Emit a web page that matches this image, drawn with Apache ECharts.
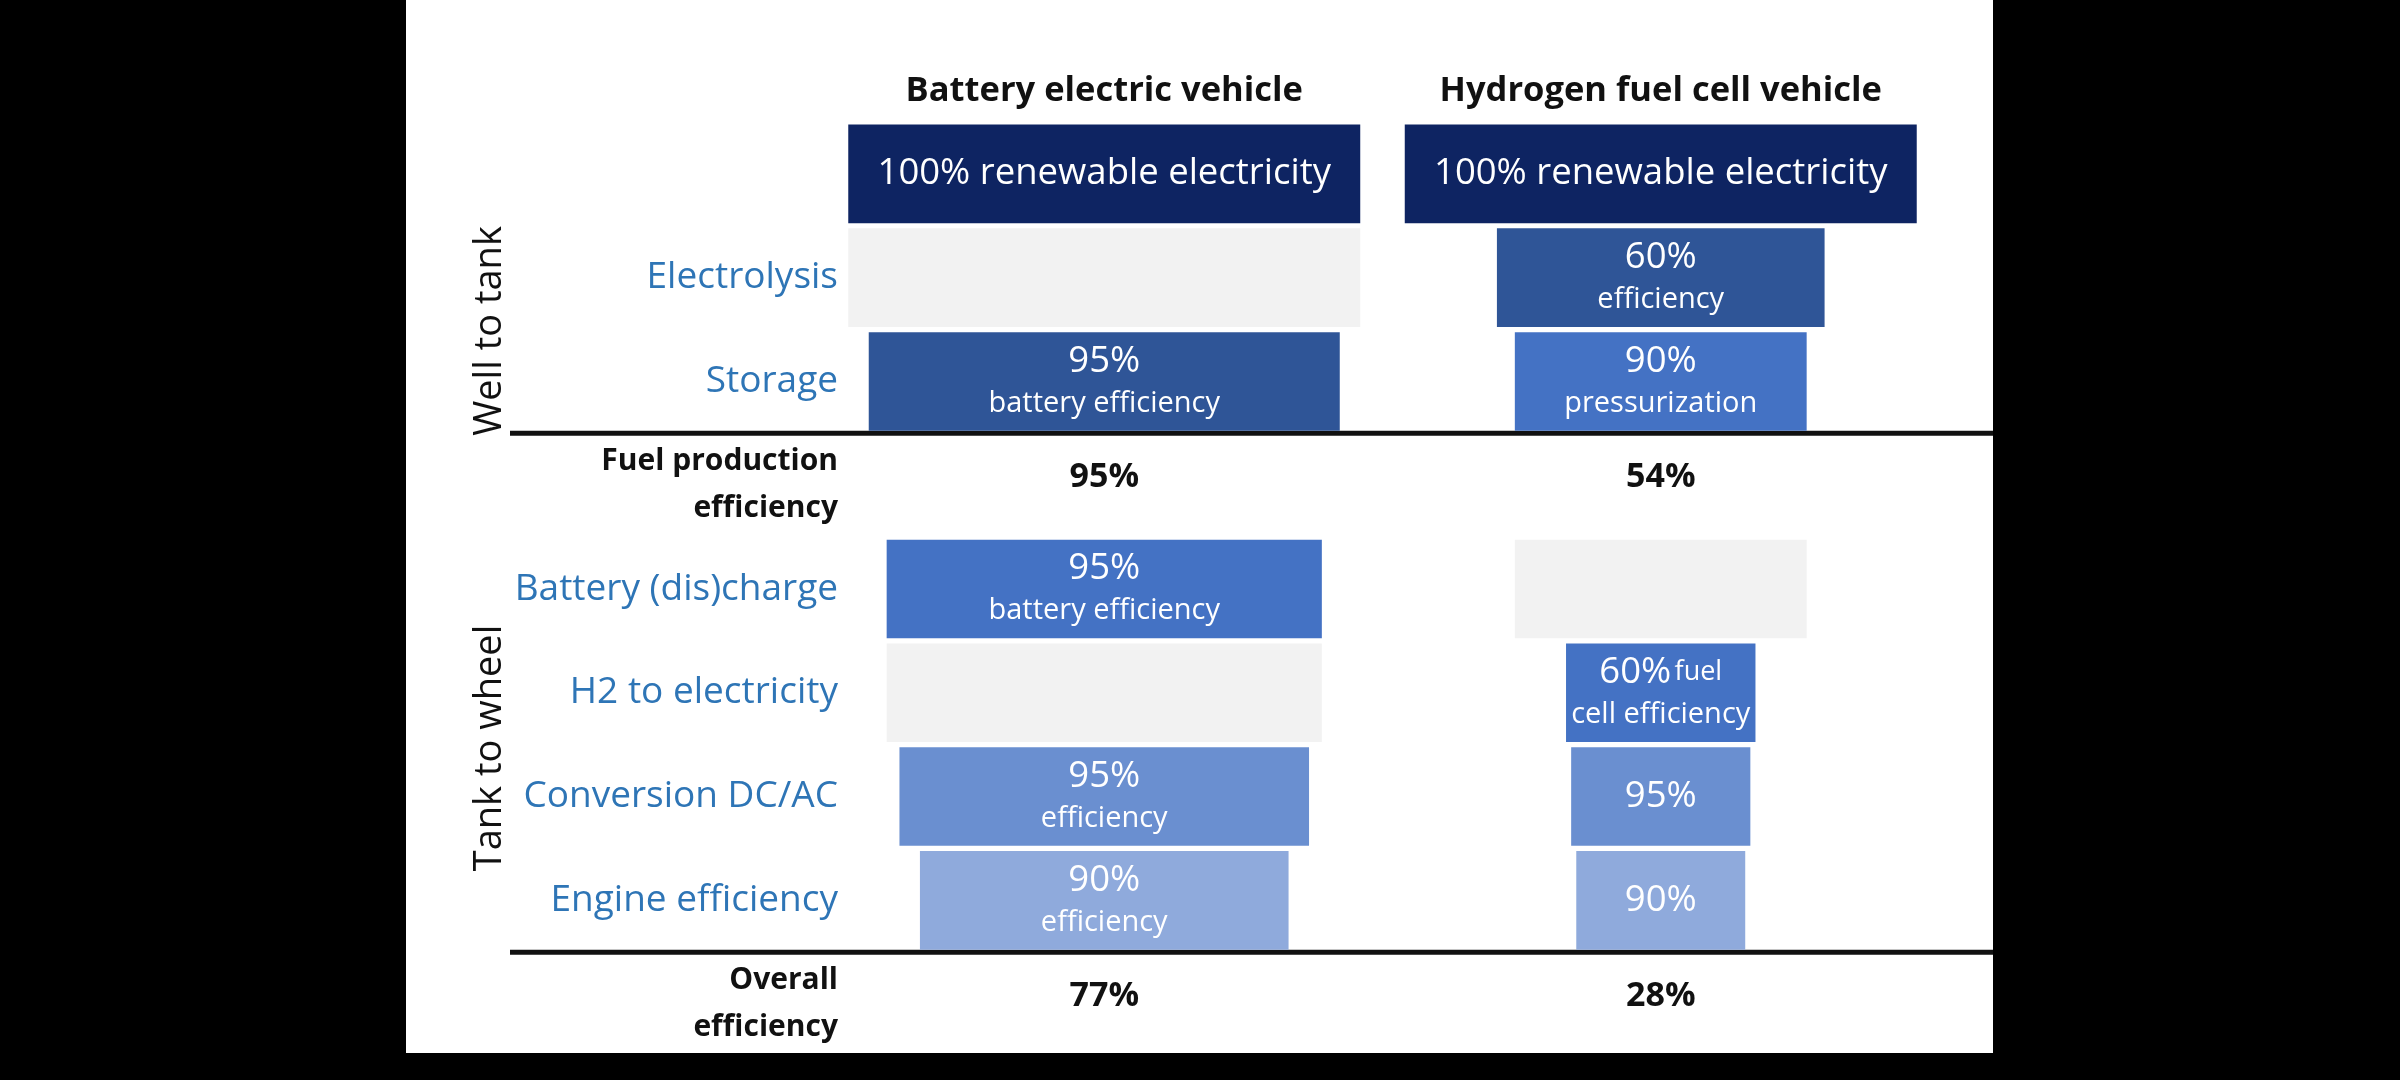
<!DOCTYPE html>
<html>
<head>
<meta charset="utf-8">
<title>Well to wheel efficiency</title>
<script src="https://cdn.jsdelivr.net/npm/echarts@6/dist/echarts.min.js"></script>
<style>
  html, body { margin: 0; padding: 0; background: #000; }
  #panel { position: absolute; left: 406px; top: 0; width: 1587px; height: 1053px; background: #fff; }
  #chart { position: absolute; left: 0; top: 0; width: 2400px; height: 1080px; }
</style>
</head>
<body>
<div id="panel"></div>
<div id="chart"></div>
<script>
var vehicles = ['Battery electric vehicle', 'Hydrogen fuel cell vehicle'];
var steps = ['', 'Electrolysis', 'Storage', 'Fuel production\nefficiency', 'Battery (dis)charge',
             'H2 to electricity', 'Conversion DC/AC', 'Engine efficiency', 'Overall\nefficiency'];
var totalRows = [3, 8];

// bar width in % of the top (100%) bar
var bevWidth = [100, 100, 92, 0, 85, 85, 80, 72, 0];
var fcvWidth = [100, 64, 57, 0, 57, 37, 35, 33, 0];

var bevValue = ['100% renewable electricity', '', '95%', '95%', '95%', '', '95%', '90%', '77%'];
var fcvValue = ['100% renewable electricity', '60%', '90%', '54%', '', '60%', '95%', '90%', '28%'];
var bevNote = ['', '', 'battery efficiency', '', 'battery efficiency', '', 'efficiency', 'efficiency', ''];
var fcvNote = ['', 'efficiency', 'pressurization', '', '', 'fuel|cell efficiency', '', '', ''];

(function () {
    var font = '"Open Sans", "Noto Sans", sans-serif';
    // fill per cell (style, not data)
    var fills = [
        ['#0e2462', '#f2f2f2', '#2f5597', null, '#4472c4', '#f2f2f2', '#6a8fd0', '#8faadc', null],
        ['#0e2462', '#2f5597', '#4472c4', null, '#f2f2f2', '#4472c4', '#6a8fd0', '#8faadc', null]
    ];
    var widths = [bevWidth, fcvWidth];
    var values = [bevValue, fcvValue];
    var notes = [bevNote, fcvNote];

    var data = [], cells = [];
    for (var c = 0; c < vehicles.length; c++) {
        for (var r = 0; r < steps.length; r++) {
            data.push([c, r, widths[c][r]]);
            cells.push({
                total: totalRows.indexOf(r) >= 0,
                value: values[c][r],
                note: notes[c][r],
                fill: fills[c][r]
            });
        }
    }

    function barText(d) {
        if (!d.value) return '';
        var t = '{p|' + d.value + '}';
        if (d.note.indexOf('|') >= 0) {
            var parts = d.note.split('|');
            t += ' {s|' + parts[0] + '}\n{n|' + parts[1] + '}';
        } else if (d.note) {
            t += '\n{n|' + d.note + '}';
        }
        return t;
    }

    var rich = {
        p: { fontSize: 36.5, fontFamily: font, color: '#fff', lineHeight: 44 },
        s: { fontSize: 27, fontFamily: font, color: '#fff', lineHeight: 44 },
        n: { fontSize: 29, fontFamily: font, color: '#fff', lineHeight: 40 }
    };

    var chart = echarts.init(document.getElementById('chart'));
    var option = {
        backgroundColor: 'transparent',
        animation: false,
        grid: { left: 826, right: 461, top: 122, bottom: 24 },
        xAxis: {
            type: 'category',
            position: 'top',
            data: vehicles,
            axisLine: { show: false },
            axisTick: { show: false },
            axisLabel: {
                interval: 0,
                margin: 13,
                color: '#111',
                fontSize: 34.5,
                fontWeight: 'bold',
                fontFamily: font
            }
        },
        yAxis: {
            type: 'category',
            inverse: true,
            data: steps,
            axisLine: { show: false },
            axisTick: { show: false },
            axisLabel: {
                interval: 0,
                margin: -12,
                color: '#2e75b6',
                fontSize: 37,
                fontFamily: font,
                formatter: function (v, i) {
                    if (totalRows.indexOf(i) < 0) return v;
                    return v.split('\n').map(function (s) { return '{b|' + s + '}'; }).join('\n');
                },
                rich: {
                    b: { fontSize: 30, fontWeight: 'bold', color: '#111', fontFamily: font, lineHeight: 47, align: 'right' }
                }
            }
        },
        series: [{
            type: 'custom',
            data: data,
            encode: { x: 0, y: 1 },
            renderItem: function (params, api) {
                var d = cells[params.dataIndex];
                var p = api.coord([api.value(0), api.value(1)]);
                var band = api.size([1, 1]);
                if (d.total) {
                    return {
                        type: 'text',
                        x: p[0],
                        y: p[1] - 8,
                        style: {
                            text: d.value,
                            fill: '#111',
                            font: 'bold 34px ' + font,
                            align: 'center',
                            verticalAlign: 'middle'
                        }
                    };
                }
                var w = band[0] * 0.92 * api.value(2) / 100;
                var h = band[1] * 0.95;
                return {
                    type: 'rect',
                    shape: { x: p[0] - w / 2, y: p[1] - h / 2, width: w, height: h },
                    style: { fill: d.fill },
                    textContent: {
                        style: {
                            text: barText(d),
                            rich: rich,
                            fill: '#fff',
                            align: 'center',
                            verticalAlign: 'middle'
                        }
                    },
                    textConfig: { position: 'inside' }
                };
            }
        }]
    };
    chart.setOption(option);

    // section rules sit between the step rows and the total rows
    var rules = totalRows.map(function (r) {
        var a = chart.convertToPixel({ yAxisIndex: 0 }, r - 1);
        var b = chart.convertToPixel({ yAxisIndex: 0 }, r);
        return (a + b) / 2;
    });
    var graphic = rules.map(function (y) {
        return {
            type: 'line',
            shape: { x1: 510, y1: y, x2: 1993, y2: y },
            style: { stroke: '#111', lineWidth: 5 }
        };
    });
    graphic.push({
        type: 'text', x: 490, y: 331, rotation: Math.PI / 2,
        style: { text: 'Well to tank', font: '38px ' + font, fill: '#111', align: 'center', verticalAlign: 'middle' }
    });
    graphic.push({
        type: 'text', x: 490, y: 748, rotation: Math.PI / 2,
        style: { text: 'Tank to wheel', font: '38px ' + font, fill: '#111', align: 'center', verticalAlign: 'middle' }
    });
    chart.setOption({ graphic: graphic });
}());
</script>
</body>
</html>
